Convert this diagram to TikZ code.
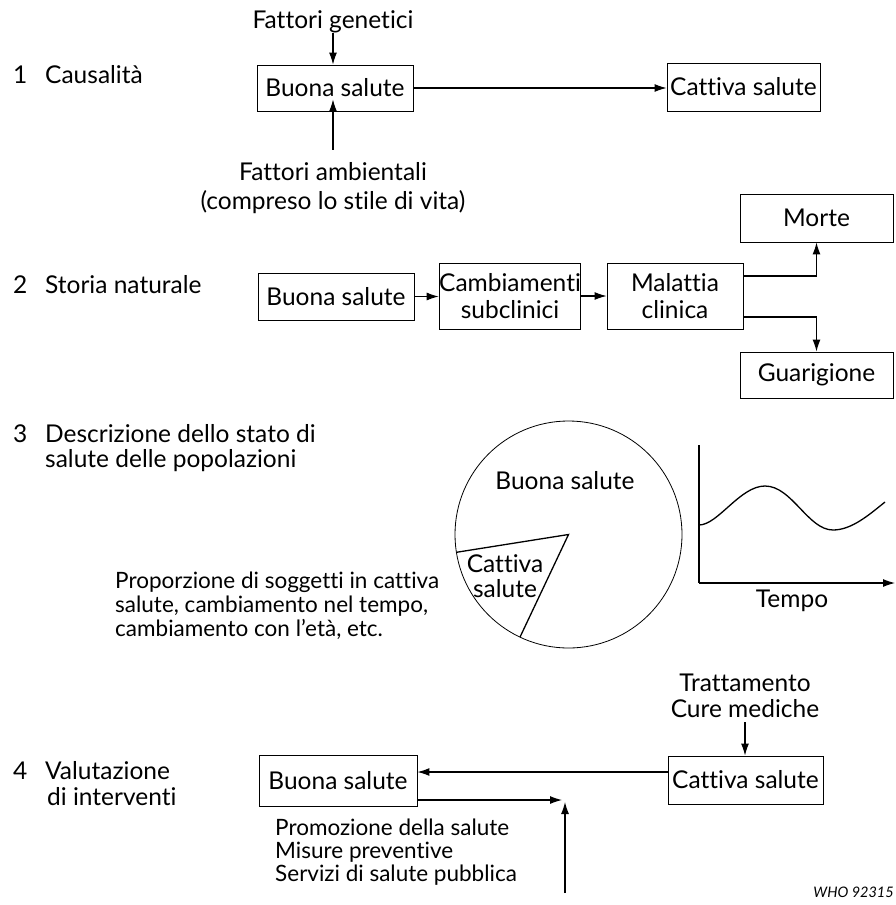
\documentclass[tikz,border=0pt]{standalone}
\usepackage{fontspec}
\setmainfont{Lato}[Ligatures=NoCommon]
\usetikzlibrary{arrows.meta,calc}
\begin{document}
\begin{tikzpicture}[x=1pt,y=-1pt,
  every node/.style={font=\fontsize{24.5}{27}\selectfont, inner sep=0pt},
  lbl/.style={anchor=base west},
  ctr/.style={anchor=base},
  small/.style={font=\fontsize{22.5}{25}\selectfont},
  box/.style={draw, line width=0.9pt, align=center},
  arr/.style={line width=1.1pt, -{Latex[length=12pt,width=8pt]}},
  ln/.style={line width=1.1pt}]
\useasboundingbox (0,0) rectangle (896,905);

% ---------- 1: Causalita ----------
\node[lbl] (n1) at (13,83) {1};
\node[lbl] (h1) at (45,83) {Causalità};
\node[box, minimum width=156pt, minimum height=46pt] (b1) at (335,88) {Buona salute};
\node[box, minimum width=153pt, minimum height=48pt] (c1) at (743.5,87) {Cattiva salute};
\node[ctr] (fg) at (333,28) {Fattori genetici};
\node[ctr] (fa) at (333,180) {Fattori ambientali};
\node[ctr] (fa2) at (333,209) {(compreso lo stile di vita)};
\draw[arr] (fg.south) -- (fg.south |- b1.north);
\draw[arr] ([yshift=12pt]fa.north) -- ([yshift=12pt]fa.north |- b1.south);
\draw[arr] (b1.east) -- (b1.east -| c1.west);

% ---------- 2: Storia naturale ----------
\node[lbl] (n2) at (13,293) {2};
\node[lbl] (h2) at (45,293) {Storia naturale};
\node[box, minimum width=156pt, minimum height=47pt] (b2) at (336,296.5) {Buona salute};
\node[box, minimum width=136pt, minimum height=66pt] (s2) at (510,296) {Cambiamenti\\subclinici};
\node[box, minimum width=136pt, minimum height=66pt] (m2) at (675,296) {Malattia\\clinica};
\node[box, minimum width=153pt, minimum height=48pt] (mo) at (816.5,218) {Morte};
\node[box, minimum width=153pt, minimum height=46pt] (gu) at (816.5,375) {Guarigione};
\draw[arr] (b2.east) -- (b2.east -| s2.west);
\draw[arr] (s2.east) -- (s2.east -| m2.west);
\draw[arr] ([yshift=20pt]m2.east) -| (mo.south);
\draw[arr] ([yshift=-21pt]m2.east) -| (gu.north);

% ---------- 3: Descrizione ----------
\node[lbl] (n3) at (13,442) {3};
\node[lbl] (h3a) at (45,442) {Descrizione dello stato di};
\node[lbl] (h3b) at (45,467) {salute delle popolazioni};
\node[lbl, small] (p1) at (115,588) {Proporzione di soggetti in cattiva};
\node[lbl, small] (p2) at (115,612) {salute, cambiamento nel tempo,};
\node[lbl, small] (p3) at (115,636) {cambiamento con l’età, etc.};

% pie chart
\coordinate (pc) at (568.5,534.5);
\coordinate (pl) at (456.4,552.3);
\coordinate (pb) at (520,637.1);
\draw[line width=0.8pt] (pc) circle[radius=113.5pt];
\draw[line width=1.3pt] (pl) -- (pc) -- (pb);
\node[ctr] (pgood) at (565,489) {Buona salute};
\node[ctr] (pbad1) at (505,572) {Cattiva};
\node[ctr] (pbad2) at (505,597) {salute};

% trend over time
\coordinate (go) at (699,583);
\coordinate (gy) at (699,445);
\coordinate (gx) at (895,583);
\draw[ln] (gy) -- (go);
\draw[arr] (go) -- (gx);
\draw[line width=1.3pt] (699,525) .. controls (718,525) and (740,486) .. (765,486)
  .. controls (792,486) and (808,530) .. (833,530)
  .. controls (852,530) and (870,514) .. (885,502);
\node[ctr] (tempo) at (792,607) {Tempo};

% ---------- 4: Valutazione ----------
\node[lbl] (n4) at (13,779) {4};
\node[lbl] (h4a) at (45,779) {Valutazione};
\node[lbl] (h4b) at (47,805) {di interventi};
\node[box, minimum width=158pt, minimum height=51pt] (b4) at (338,780.5) {Buona salute};
\node[box, minimum width=155pt, minimum height=48pt] (c4) at (745.5,780) {Cattiva salute};
\node[ctr] (tr) at (745,691) {Trattamento};
\node[ctr] (cm) at (745,717) {Cure mediche};
\coordinate (cmo) at (745,722);
\draw[arr] (cmo) -- (cmo |- c4.north);
\draw[arr] ([yshift=8pt]c4.west) -- ([yshift=8pt]c4.west -| b4.east);
\coordinate (hend) at (562,800);
\coordinate (vtop) at (565,802);
\coordinate (vbot) at (565,893);
\draw[arr] ([yshift=-19.5pt]b4.east) -- (hend);
\draw[arr] (vbot) -- (vtop);
\node[lbl, small] (q1) at (275,835) {Promozione della salute};
\node[lbl, small] (q2) at (275,858) {Misure preventive};
\node[lbl, small] (q3) at (275,881) {Servizi di salute pubblica};

\node[anchor=base east, font=\fontsize{14.5}{17}\selectfont\itshape] (who) at (894,897) {WHO 92315};
\end{tikzpicture}
\end{document}
